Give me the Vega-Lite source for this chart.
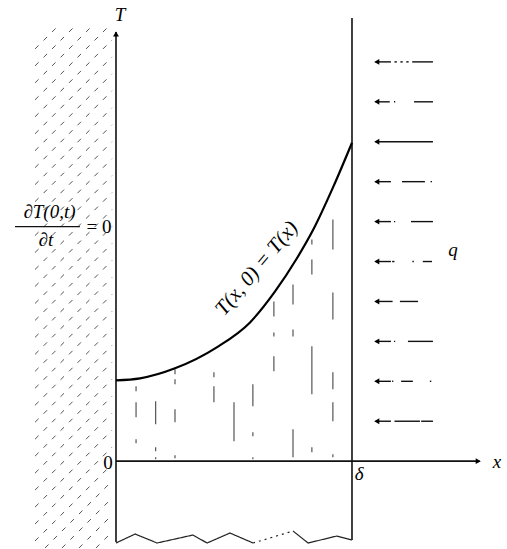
{
  "$schema": "https://vega.github.io/schema/vega-lite/v6.json",
  "width": 507,
  "height": 549,
  "autosize": {"type": "fit", "contains": "padding"},
  "padding": 0,
  "background": "white",
  "config": {"view": {"stroke": null}},
  "datasets": {
    "hatch": [
      {"x1": -0.343, "y1": -0.80, "x2": -0.017, "y2": -0.03},
      {"x1": -0.343, "y1": -0.63, "x2": -0.017, "y2": 0.14},
      {"x1": -0.343, "y1": -0.46, "x2": -0.017, "y2": 0.31},
      {"x1": -0.343, "y1": -0.29, "x2": -0.017, "y2": 0.48},
      {"x1": -0.343, "y1": -0.12, "x2": -0.017, "y2": 0.65},
      {"x1": -0.343, "y1": 0.05, "x2": -0.017, "y2": 0.82},
      {"x1": -0.343, "y1": 0.22, "x2": -0.017, "y2": 0.99},
      {"x1": -0.343, "y1": 0.39, "x2": -0.017, "y2": 1.16},
      {"x1": -0.343, "y1": 0.56, "x2": -0.017, "y2": 1.33},
      {"x1": -0.343, "y1": 0.73, "x2": -0.017, "y2": 1.50},
      {"x1": -0.343, "y1": 0.90, "x2": -0.017, "y2": 1.67},
      {"x1": -0.343, "y1": 1.07, "x2": -0.017, "y2": 1.84},
      {"x1": -0.343, "y1": 1.24, "x2": -0.017, "y2": 2.01},
      {"x1": -0.343, "y1": 1.41, "x2": -0.017, "y2": 2.18},
      {"x1": -0.343, "y1": 1.58, "x2": -0.017, "y2": 2.35},
      {"x1": -0.343, "y1": 1.75, "x2": -0.017, "y2": 2.52},
      {"x1": -0.343, "y1": 1.92, "x2": -0.017, "y2": 2.69},
      {"x1": -0.343, "y1": 2.09, "x2": -0.017, "y2": 2.86},
      {"x1": -0.343, "y1": 2.26, "x2": -0.017, "y2": 3.03},
      {"x1": -0.343, "y1": 2.43, "x2": -0.017, "y2": 3.20},
      {"x1": -0.343, "y1": 2.60, "x2": -0.017, "y2": 3.37},
      {"x1": -0.343, "y1": 2.77, "x2": -0.017, "y2": 3.54},
      {"x1": -0.343, "y1": 2.94, "x2": -0.017, "y2": 3.71},
      {"x1": -0.343, "y1": 3.11, "x2": -0.017, "y2": 3.88},
      {"x1": -0.343, "y1": 3.28, "x2": -0.017, "y2": 4.05},
      {"x1": -0.343, "y1": 3.45, "x2": -0.017, "y2": 4.22},
      {"x1": -0.343, "y1": 3.62, "x2": -0.025, "y2": 4.37},
      {"x1": -0.343, "y1": 3.79, "x2": -0.097, "y2": 4.37},
      {"x1": -0.343, "y1": 3.96, "x2": -0.169, "y2": 4.37},
      {"x1": -0.343, "y1": 4.13, "x2": -0.241, "y2": 4.37},
      {"x1": -0.301, "y1": -0.87, "x2": -0.017, "y2": -0.20},
      {"x1": -0.229, "y1": -0.87, "x2": -0.017, "y2": -0.37},
      {"x1": -0.157, "y1": -0.87, "x2": -0.017, "y2": -0.54},
      {"x1": -0.085, "y1": -0.87, "x2": -0.017, "y2": -0.71}
    ],
    "inner": [
      {"x": 0.085, "y1": 0.75, "y2": 0.70},
      {"x": 0.085, "y1": 0.59, "y2": 0.44},
      {"x": 0.085, "y1": 0.22, "y2": 0.18},
      {"x": 0.168, "y1": 0.60, "y2": 0.37},
      {"x": 0.168, "y1": 0.14, "y2": 0.10},
      {"x": 0.168, "y1": 0.04, "y2": 0.02},
      {"x": 0.25, "y1": 0.92, "y2": 0.87},
      {"x": 0.25, "y1": 0.82, "y2": 0.77},
      {"x": 0.25, "y1": 0.52, "y2": 0.39},
      {"x": 0.25, "y1": 0.06, "y2": 0.03},
      {"x": 0.415, "y1": 0.89, "y2": 0.84},
      {"x": 0.415, "y1": 0.75, "y2": 0.59},
      {"x": 0.5, "y1": 0.59, "y2": 0.20},
      {"x": 0.58, "y1": 0.77, "y2": 0.55},
      {"x": 0.58, "y1": 0.29, "y2": 0.25},
      {"x": 0.58, "y1": 0.04, "y2": 0.02},
      {"x": 0.669, "y1": 1.60, "y2": 1.45},
      {"x": 0.669, "y1": 1.29, "y2": 1.25},
      {"x": 0.669, "y1": 1.05, "y2": 0.90},
      {"x": 0.75, "y1": 1.77, "y2": 1.57},
      {"x": 0.75, "y1": 1.32, "y2": 1.25},
      {"x": 0.75, "y1": 0.32, "y2": 0.04},
      {"x": 0.83, "y1": 2.22, "y2": 2.17},
      {"x": 0.83, "y1": 2.02, "y2": 1.87},
      {"x": 0.83, "y1": 1.15, "y2": 0.67},
      {"x": 0.83, "y1": 0.14, "y2": 0.09},
      {"x": 0.919, "y1": 2.42, "y2": 2.12},
      {"x": 0.919, "y1": 1.69, "y2": 1.42},
      {"x": 0.919, "y1": 0.89, "y2": 0.72},
      {"x": 0.919, "y1": 0.59, "y2": 0.40},
      {"x": 0.919, "y1": 0.07, "y2": 0.04}
    ],
    "frame": [
      {"x1": 0, "y1": -0.81, "x2": 0, "y2": 4.30},
      {"x1": 0, "y1": 0, "x2": 1.54, "y2": 0},
      {"x1": 1, "y1": -0.79, "x2": 1, "y2": 4.44}
    ],
    "zigzag": [
      {"x": 0, "y": -0.82, "piece": "1"},
      {"x": 0.081, "y": -0.73, "piece": "1"},
      {"x": 0.174, "y": -0.82, "piece": "1"},
      {"x": 0.326, "y": -0.74, "piece": "1"},
      {"x": 0.386, "y": -0.82, "piece": "1"},
      {"x": 0.483, "y": -0.72, "piece": "1"},
      {"x": 0.581, "y": -0.82, "piece": "1"},
      {"x": 0.581, "y": -0.82, "piece": "2"},
      {"x": 0.75, "y": -0.70, "piece": "2"},
      {"x": 0.75, "y": -0.70, "piece": "3"},
      {"x": 0.814, "y": -0.82, "piece": "3"},
      {"x": 0.936, "y": -0.75, "piece": "3"},
      {"x": 1.0, "y": -0.79, "piece": "3"}
    ],
    "curve": [
      {"x": 0, "y": 0.81},
      {"x": 0.102, "y": 0.83},
      {"x": 0.25, "y": 0.93},
      {"x": 0.427, "y": 1.14},
      {"x": 0.568, "y": 1.39},
      {"x": 0.674, "y": 1.70},
      {"x": 0.766, "y": 2.03},
      {"x": 0.836, "y": 2.32},
      {"x": 0.921, "y": 2.75},
      {"x": 1.0, "y": 3.19}
    ],
    "shafts": [
      {"y": 4.0, "x1": 1.10, "x2": 1.165}, {"y": 4.0, "x1": 1.18, "x2": 1.19}, {"y": 4.0, "x1": 1.205, "x2": 1.215}, {"y": 4.0, "x1": 1.23, "x2": 1.24}, {"y": 4.0, "x1": 1.255, "x2": 1.343},
      {"y": 3.6, "x1": 1.10, "x2": 1.16}, {"y": 3.6, "x1": 1.178, "x2": 1.183}, {"y": 3.6, "x1": 1.263, "x2": 1.343},
      {"y": 3.2, "x1": 1.10, "x2": 1.343},
      {"y": 2.8, "x1": 1.10, "x2": 1.165}, {"y": 2.8, "x1": 1.212, "x2": 1.309}, {"y": 2.8, "x1": 1.333, "x2": 1.339},
      {"y": 2.4, "x1": 1.10, "x2": 1.165}, {"y": 2.4, "x1": 1.178, "x2": 1.183}, {"y": 2.4, "x1": 1.25, "x2": 1.343},
      {"y": 2.0, "x1": 1.10, "x2": 1.165}, {"y": 2.0, "x1": 1.17, "x2": 1.18}, {"y": 2.0, "x1": 1.256, "x2": 1.262}, {"y": 2.0, "x1": 1.30, "x2": 1.339},
      {"y": 1.6, "x1": 1.10, "x2": 1.172}, {"y": 1.6, "x1": 1.203, "x2": 1.28},
      {"y": 1.2, "x1": 1.10, "x2": 1.165}, {"y": 1.2, "x1": 1.178, "x2": 1.183}, {"y": 1.2, "x1": 1.237, "x2": 1.343},
      {"y": 0.8, "x1": 1.10, "x2": 1.165}, {"y": 0.8, "x1": 1.17, "x2": 1.175}, {"y": 0.8, "x1": 1.208, "x2": 1.258}, {"y": 0.8, "x1": 1.33, "x2": 1.336},
      {"y": 0.4, "x1": 1.10, "x2": 1.165}, {"y": 0.4, "x1": 1.18, "x2": 1.288}, {"y": 0.4, "x1": 1.293, "x2": 1.343}
    ],
    "heads": [
      {"x": 1.105, "y": 4.0, "dir": "left"},
      {"x": 1.105, "y": 3.6, "dir": "left"},
      {"x": 1.105, "y": 3.2, "dir": "left"},
      {"x": 1.105, "y": 2.8, "dir": "left"},
      {"x": 1.105, "y": 2.4, "dir": "left"},
      {"x": 1.105, "y": 2.0, "dir": "left"},
      {"x": 1.105, "y": 1.6, "dir": "left"},
      {"x": 1.105, "y": 1.2, "dir": "left"},
      {"x": 1.105, "y": 0.8, "dir": "left"},
      {"x": 1.105, "y": 0.4, "dir": "left"},
      {"x": 0, "y": 4.28, "dir": "up"},
      {"x": 1.535, "y": 0, "dir": "right"}
    ]
  },
  "encoding": {
    "x": {"type": "quantitative", "scale": {"domain": [-0.4915, 1.6568], "nice": false, "zero": false}, "axis": null},
    "y": {"type": "quantitative", "scale": {"domain": [-0.87, 4.62], "nice": false, "zero": false}, "axis": null}
  },
  "layer": [
    {
      "data": {"name": "hatch"},
      "mark": {"type": "rule", "color": "#555", "strokeWidth": 1, "strokeDash": [5, 7]},
      "encoding": {"x": {"field": "x1", "type": "quantitative"}, "y": {"field": "y1", "type": "quantitative"}, "x2": {"field": "x2"}, "y2": {"field": "y2"}}
    },
    {
      "data": {"name": "inner"},
      "mark": {"type": "rule", "color": "#555", "strokeWidth": 1.2},
      "encoding": {"x": {"field": "x", "type": "quantitative"}, "y": {"field": "y1", "type": "quantitative"}, "y2": {"field": "y2"}}
    },
    {
      "data": {"name": "frame"},
      "mark": {"type": "rule", "color": "#111", "strokeWidth": 1.6},
      "encoding": {"x": {"field": "x1", "type": "quantitative"}, "y": {"field": "y1", "type": "quantitative"}, "x2": {"field": "x2"}, "y2": {"field": "y2"}}
    },
    {
      "data": {"name": "zigzag"},
      "mark": {"type": "line", "color": "#222", "strokeWidth": 1.2},
      "encoding": {
        "x": {"field": "x", "type": "quantitative"},
        "y": {"field": "y", "type": "quantitative"},
        "detail": {"field": "piece"},
        "strokeDash": {"field": "piece", "type": "nominal", "scale": {"domain": ["1", "2", "3"], "range": [[1, 0], [2, 4], [1, 0]]}, "legend": null}
      }
    },
    {
      "data": {"name": "curve"},
      "mark": {"type": "line", "color": "#000", "strokeWidth": 2.2, "interpolate": "monotone"},
      "encoding": {"x": {"field": "x", "type": "quantitative"}, "y": {"field": "y", "type": "quantitative"}}
    },
    {
      "data": {"name": "shafts"},
      "mark": {"type": "rule", "color": "#111", "strokeWidth": 1.4},
      "encoding": {"x": {"field": "x1", "type": "quantitative"}, "x2": {"field": "x2"}, "y": {"field": "y", "type": "quantitative"}}
    },
    {
      "data": {"name": "heads"},
      "mark": {"type": "point", "filled": true, "color": "#000", "size": 35, "opacity": 1},
      "encoding": {
        "x": {"field": "x", "type": "quantitative"},
        "y": {"field": "y", "type": "quantitative"},
        "shape": {"field": "dir", "type": "nominal", "scale": {"domain": ["left", "up", "right"], "range": ["triangle-left", "triangle-up", "triangle-right"]}, "legend": null}
      }
    },
    {
      "data": {"values": [{"x": -0.428, "y": 2.35, "x2": -0.153}]},
      "mark": {"type": "rule", "color": "#111", "strokeWidth": 1.2},
      "encoding": {"x": {"field": "x", "type": "quantitative"}, "x2": {"field": "x2"}, "y": {"field": "y", "type": "quantitative"}}
    },
    {
      "data": {"values": [
        {"x": 0.017, "y": 4.47, "label": "T"},
        {"x": 1.614, "y": -0.01, "label": "x"},
        {"x": 1.428, "y": 2.12, "label": "q"},
        {"x": 1.03, "y": -0.13, "label": "δ"},
        {"x": -0.282, "y": 2.50, "label": "∂T(0,t)"},
        {"x": -0.297, "y": 2.22, "label": "∂t"}
      ]},
      "mark": {"type": "text", "font": "Liberation Serif", "fontStyle": "italic", "fontSize": 19, "align": "center", "baseline": "middle", "color": "#000"},
      "encoding": {"x": {"field": "x", "type": "quantitative"}, "y": {"field": "y", "type": "quantitative"}, "text": {"field": "label"}}
    },
    {
      "data": {"values": [
        {"x": -0.034, "y": -0.02, "label": "0"},
        {"x": -0.072, "y": 2.35, "label": "= 0"}
      ]},
      "mark": {"type": "text", "font": "Liberation Serif", "fontSize": 19, "align": "center", "baseline": "middle", "color": "#000"},
      "encoding": {"x": {"field": "x", "type": "quantitative"}, "y": {"field": "y", "type": "quantitative"}, "text": {"field": "label"}}
    },
    {
      "data": {"values": [{"x": 0.597, "y": 1.93, "label": "T(x, 0) = T(x)"}]},
      "mark": {"type": "text", "font": "Liberation Serif", "fontStyle": "italic", "fontSize": 21, "align": "center", "baseline": "middle", "angle": 310, "color": "#000"},
      "encoding": {"x": {"field": "x", "type": "quantitative"}, "y": {"field": "y", "type": "quantitative"}, "text": {"field": "label"}}
    }
  ]
}
